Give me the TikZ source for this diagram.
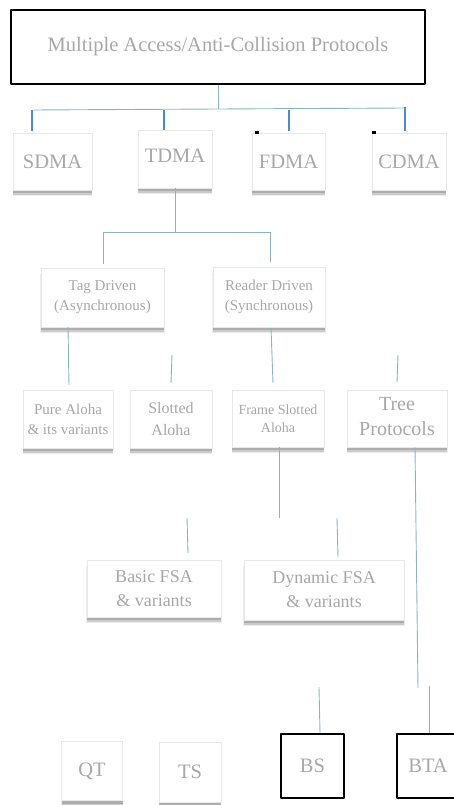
\documentclass[tikz,border=0pt]{standalone}
\usepackage{fontspec}
\setmainfont{Liberation Serif}
\usetikzlibrary{shadows}
\definecolor{txt}{RGB}{168,168,168}
\definecolor{conn}{RGB}{140,180,188}
\definecolor{tick}{RGB}{70,140,210}
\tikzset{
  box/.style={draw=gray!18, line width=0.6pt, fill=white, text=txt, align=center, inner sep=0pt,
    general shadow={shadow yshift=-6pt, shadow xshift=0pt, shadow scale=1.01, fill=gray, opacity=0.15},
    general shadow={shadow yshift=-4.5pt, shadow xshift=0pt, fill=gray, opacity=0.3},
    general shadow={shadow yshift=-3pt, shadow xshift=0pt, fill=gray, opacity=0.4}},
  blackbox/.style={draw=black, line width=2pt, fill=white, text=txt, align=center, inner sep=0pt, line cap=round, line join=round},
  ln/.style={draw=conn, line width=0.9pt},
  tk/.style={draw=tick, line width=1.8pt},
  fa/.style={font=\fontsize{20.5}{24}\selectfont},
  fb/.style={font=\fontsize{15}{20}\selectfont},
  fc/.style={font=\fontsize{14}{18}\selectfont},
  fd/.style={font=\fontsize{18}{24}\selectfont},
  fe/.style={font=\fontsize{20}{25}\selectfont},
}
\begin{document}
\begin{tikzpicture}[x=1pt,y=-1pt]
\useasboundingbox (0,0) rectangle (454,805);
% top
\node[blackbox, fa, minimum width=414pt, minimum height=74pt] (top) at (218,47) {Multiple Access/Anti-Collision Protocols};
% row 1
\node[box, fa, minimum width=79pt, minimum height=57pt] (sdma) at (52.5,161.5) {SDMA};
\node[box, fa, minimum width=74pt, minimum height=58pt, text depth=6pt] (tdma) at (175,159) {TDMA};
\node[box, fa, minimum width=73pt, minimum height=57pt] (fdma) at (288.5,161.5) {FDMA};
\node[box, fa, minimum width=74pt, minimum height=57pt] (cdma) at (409,161.5) {CDMA};
% row 2
\node[box, fb, minimum width=123pt, minimum height=59pt] (tag) at (102.5,297.5) {Tag Driven\\(Asynchronous)};
\node[box, fb, minimum width=112pt, minimum height=60pt] (reader) at (269,297) {Reader Driven\\(Synchronous)};
% row 3
\node[box, fb, minimum width=90pt, minimum height=58pt] (pure) at (68,419) {Pure Aloha\\\& its variants};
\node[box, font=\fontsize{16}{22}\selectfont, minimum width=82pt, minimum height=58pt] (slotted) at (171,419) {Slotted\\Aloha};
\node[box, fc, minimum width=92pt, minimum height=57pt] (frame) at (278,418.5) {Frame Slotted\\Aloha};
\node[box, fe, minimum width=100pt, minimum height=57pt, text depth=4pt] (tree) at (397,418.5) {Tree\\Protocols};
% row 4
\node[box, fd, minimum width=134pt, minimum height=57pt] (basic) at (154,588.5) {Basic FSA\\\& variants};
\node[box, fd, minimum width=160pt, minimum height=60pt] (dyn) at (324,590) {Dynamic FSA\\\& variants};
% row 5
\node[box, fa, minimum width=61pt, minimum height=59pt] (qt) at (92,771) {QT};
\node[box, fa, minimum width=62pt, minimum height=60pt] (ts) at (190,772) {TS};
\node[blackbox, fa, minimum width=63pt, minimum height=64pt] (bs) at (312.5,766) {BS};
\node[blackbox, fa, minimum width=62pt, minimum height=64pt] (bta) at (428,766) {BTA};

% top connectors
\coordinate (hj) at (218,109);
\coordinate (hl) at (33,110);
\coordinate (hr) at (405,108);
\draw[ln] (top.south) -- (hj);
\draw[ln] (hl) -- (hj) -- (hr);
\coordinate (t1) at (32,110);
\coordinate (t2) at (164,110);
\coordinate (t3) at (289,110);
\coordinate (t4) at (405,107);
\draw[tk] (t1) -- (t1 |- 0,131);
\draw[tk] (t2) -- (t2 |- 0,130);
\draw[tk] (t3) -- (t3 |- 0,131);
\draw[tk] (t4) -- (t4 |- 0,131);
\fill[black] (255,131) rectangle (259,134);
\fill[black] (372,131) rectangle (376,134);

% TDMA connectors
\coordinate (tj) at (175,232);
\coordinate (tl) at (103,232);
\coordinate (tr) at (270,232);
\draw[ln] (tdma.south) -- (tj);
\draw[ln] (tl) -- (tr);
\draw[ln] (tl) -- (103,264);
\draw[ln] (tr) -- (270,262);

% row 3 connectors
\coordinate (pa) at (68,327);
\coordinate (pb) at (69,385);
\draw[ln] (pa) -- (pb);
\coordinate (sa) at (172,355);
\coordinate (sb) at (171,383);
\draw[ln] (sa) -- (sb);
\coordinate (fa) at (271,328);
\coordinate (fb) at (273,383);
\draw[ln] (fa) -- (fb);
\coordinate (ra) at (398,355);
\coordinate (rb) at (397,382);
\draw[ln] (ra) -- (rb);

% lower connectors
\coordinate (fs) at (279,518);
\draw[ln] (frame.south -| 279,0) -- (fs);
\coordinate (trb) at (418,688);
\draw[ln] (tree.south -| 415,0) -- (trb);
\coordinate (ba) at (187,518);
\coordinate (bb) at (188,553);
\draw[ln] (ba) -- (bb);
\coordinate (da) at (337,518);
\coordinate (db) at (338,557);
\draw[ln] (da) -- (db);
\coordinate (bsa) at (319,687);
\draw[ln] (bsa) -- (bs.north -| 320,0);
\coordinate (bta1) at (429,686);
\draw[ln] (bta1) -- (bta.north -| 429,0);
\end{tikzpicture}
\end{document}
